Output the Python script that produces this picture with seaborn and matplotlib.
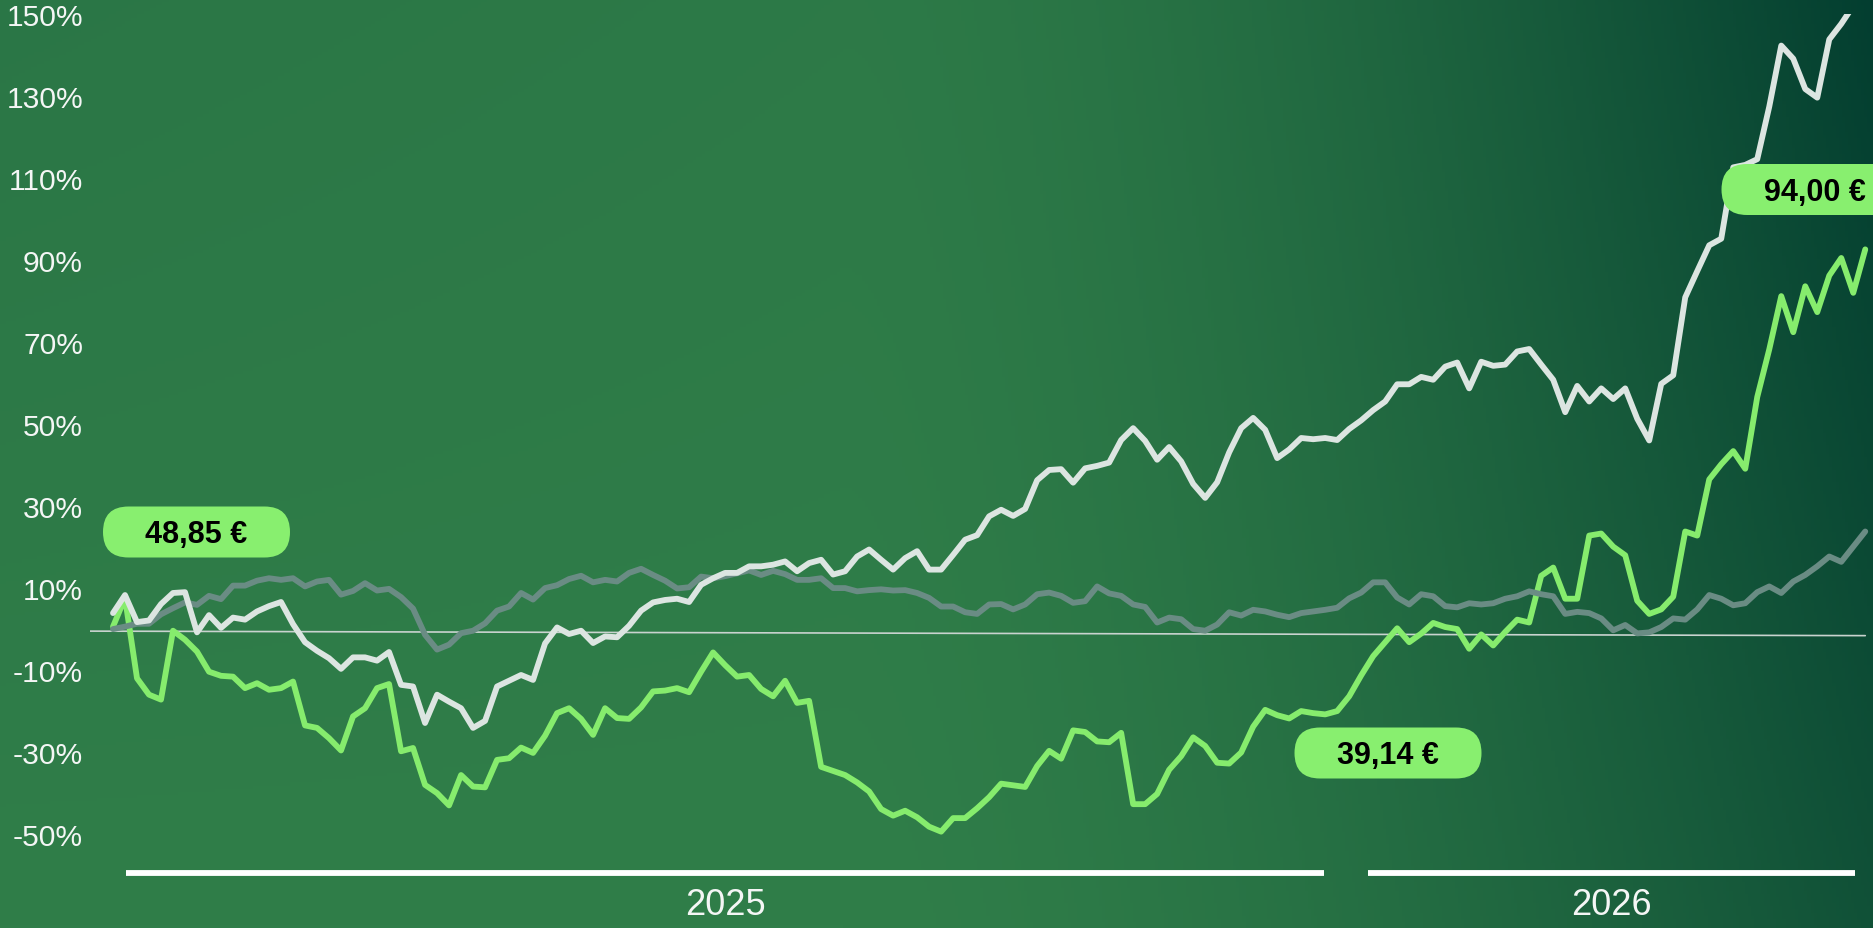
import numpy as np
import pandas as pd
import matplotlib
matplotlib.use("Agg")
import matplotlib.pyplot as plt
from matplotlib.patches import FancyBboxPatch
import seaborn as sns

# Performance relative to the start (%), one value every ~3.5 days
white_vals = [
    3.9, 8.3, 1.7, 2.1, 6.1, 8.8, 9.0, -0.8, 3.4, 0.3,
    2.8, 2.3, 4.3, 5.6, 6.6, 1.2, -3.2, -5.3, -7.1, -9.7,
    -6.9, -6.9, -7.7, -5.6, -13.6, -14.0, -22.9, -16.0, -17.7, -19.3,
    -24.1, -22.4, -14.0, -12.6, -11.2, -12.4, -3.5, 0.4, -1.2, -0.4,
    -3.4, -1.8, -2.0, 0.8, 4.5, 6.5, 7.1, 7.4, 6.6, 10.8,
    12.4, 13.7, 13.7, 15.3, 15.3, 15.7, 16.5, 14.1, 16.1, 16.9,
    13.3, 14.1, 17.7, 19.4, 16.9, 14.5, 17.3, 19.0, 14.5, 14.5,
    18.1, 21.8, 22.9, 27.5, 29.1, 27.6, 29.3, 36.3, 38.8, 39.0,
    35.7, 39.2, 39.8, 40.6, 46.1, 49.0, 45.9, 41.3, 44.4, 40.9,
    35.4, 32.0, 35.8, 43.1, 49.0, 51.5, 48.6, 41.7, 43.8, 46.6,
    46.3, 46.6, 46.1, 48.8, 50.9, 53.4, 55.5, 59.7, 59.7, 61.5,
    60.8, 64.0, 65.0, 58.7, 65.2, 64.2, 64.5, 67.7, 68.3, 64.5,
    60.8, 52.9, 59.3, 55.5, 58.7, 56.1, 58.7, 51.3, 46.0, 59.8,
    61.9, 80.9, 87.3, 93.6, 95.2, 112.6, 113.2, 114.6, 127.4, 142.3,
    139.1, 131.7, 129.6, 143.8, 147.6, 152.0, 156.0,
]
green_vals = [
    0.6, 7.6, -12.0, -16.0, -17.2, -0.4, -2.6, -5.5, -10.4, -11.4,
    -11.6, -14.4, -13.2, -14.8, -14.4, -12.8, -23.5, -24.1, -26.6, -29.6,
    -21.3, -19.3, -14.4, -13.4, -29.8, -29.0, -38.0, -40.0, -43.0, -35.6,
    -38.4, -38.6, -31.9, -31.5, -28.9, -30.2, -26.0, -20.5, -19.3, -21.9,
    -25.8, -19.3, -21.7, -21.9, -19.1, -15.2, -15.0, -14.4, -15.4, -10.4,
    -5.7, -8.8, -11.6, -11.2, -14.6, -16.4, -12.6, -18.0, -17.5, -33.6,
    -34.6, -35.6, -37.4, -39.6, -43.9, -45.5, -44.3, -45.9, -48.2, -49.4,
    -46.1, -46.1, -43.7, -41.0, -37.7, -38.1, -38.5, -33.4, -29.7, -31.6,
    -24.7, -25.1, -27.4, -27.6, -25.3, -42.7, -42.7, -40.2, -34.3, -31.0,
    -26.4, -28.5, -32.6, -32.8, -30.1, -23.8, -19.7, -21.0, -21.8, -20.0,
    -20.5, -20.8, -20.0, -16.4, -11.3, -6.6, -3.2, 0.2, -3.2, -1.1,
    1.5, 0.5, 0.0, -4.8, -1.3, -4.0, -0.7, 2.3, 1.6, 13.0,
    15.0, 7.4, 7.4, 22.8, 23.3, 20.1, 18.0, 6.9, 3.7, 4.8,
    7.9, 23.8, 22.8, 36.5, 40.2, 43.4, 39.1, 56.6, 68.2, 81.2,
    72.4, 83.6, 77.3, 86.2, 90.5, 82.0, 92.6,
]
gray_vals = [
    0.0, 0.6, 1.3, 1.3, 3.6, 5.1, 6.5, 5.9, 8.1, 7.3,
    10.6, 10.6, 11.8, 12.4, 12.0, 12.4, 10.4, 11.6, 12.0, 8.4,
    9.3, 11.2, 9.4, 9.8, 7.8, 5.0, -1.4, -5.0, -3.8, -1.0,
    -0.4, 1.4, 4.5, 5.5, 8.8, 7.2, 10.0, 10.7, 12.2, 13.0,
    11.4, 12.0, 11.6, 13.7, 14.7, 13.2, 11.8, 9.9, 10.2, 12.8,
    12.4, 12.9, 13.6, 14.3, 13.2, 14.2, 13.4, 12.0, 12.0, 12.4,
    10.0, 10.0, 9.2, 9.5, 9.7, 9.4, 9.5, 8.8, 7.6, 5.5,
    5.5, 4.1, 3.7, 6.0, 6.1, 4.8, 6.0, 8.5, 8.9, 8.1,
    6.4, 6.8, 10.4, 8.7, 8.1, 6.0, 5.4, 1.6, 2.8, 2.4,
    0.0, -0.4, 1.1, 4.1, 3.3, 4.7, 4.3, 3.5, 2.9, 3.9,
    4.3, 4.7, 5.2, 7.5, 8.9, 11.4, 11.4, 7.7, 6.0, 8.5,
    8.0, 5.6, 5.3, 6.3, 6.0, 6.3, 7.4, 8.0, 9.2, 8.5,
    8.0, 3.7, 4.2, 3.9, 2.6, -0.3, 1.0, -1.05, -0.8, 0.5,
    2.6, 2.3, 4.8, 8.3, 7.4, 5.8, 6.3, 9.0, 10.4, 8.8,
    11.6, 13.2, 15.3, 17.7, 16.4, 20.1, 23.8,
]
start_date, end_date = "2024-12-30", "2026-06-04"
baseline = [-0.5, -1.6]
y_ticks = [-50, -30, -10, 10, 30, 50, 70, 90, 110, 130, 150]
years = ["2025", "2026"]
year_spans = [("2025-01-03", "2025-12-25"), ("2026-01-07", "2026-06-01")]
price_labels = ["48,85 €", "39,14 €", "94,00 €"]

dates = pd.date_range(start_date, end_date, periods=len(white_vals))
df = pd.concat([
    pd.DataFrame({"date": dates, "perf": green_vals, "serie": "green"}),
    pd.DataFrame({"date": dates, "perf": gray_vals, "serie": "gray"}),
    pd.DataFrame({"date": dates, "perf": white_vals, "serie": "white"}),
])

sns.set_style("white")
plt.rcParams["font.family"] = ["Liberation Sans", "DejaVu Sans"]

W, H = 1873, 929
fig = plt.figure(figsize=(W / 100, H / 100), dpi=100)

# background gradient: bright green bottom-left -> dark teal top-right
yy, xx = np.mgrid[0:1:300j, 0:1:600j]
t = np.clip((xx - 0.45) / 0.55, 0, 1) ** 1.6 * (0.7 + 0.3 * (1 - yy)) + 0.12 * (1 - yy) * (1 - xx)
t = np.clip(t, 0, 1)[..., None]
light = np.array([48, 126, 73]) / 255
dark = np.array([3, 62, 48]) / 255
bg = fig.add_axes([0, 0, 1, 1])
bg.imshow(light * (1 - t) + dark * t, aspect="auto", extent=(0, 1, 0, 1), origin="upper")
bg.axis("off")

ax = fig.add_axes([90 / W, 0, 1 - 90 / W, 914 / H])
ax.patch.set_alpha(0)

x0 = dates[0] - pd.Timedelta(days=6.84)
ax.plot([x0, dates[-1]], baseline, color="#C9D3CF", lw=1.2, zorder=1)

sns.lineplot(data=df, x="date", y="perf", hue="serie",
             hue_order=["green", "gray", "white"],
             palette={"green": "#86EC6D", "gray": "#6A8C84", "white": "#DCE5E1"},
             linewidth=4.2, legend=False, estimator=None, sort=False, ax=ax)
for ln in ax.lines[1:]:
    ln.set_solid_capstyle("round")
    ln.set_solid_joinstyle("round")

ax.set_xlim(x0, dates[0] + pd.Timedelta(days=523.3))
ax.set_ylim(-72.9, 150)
ax.set_yticks(y_ticks)
ax.set_yticklabels([f"{v}%" for v in y_ticks])
ax.tick_params(axis="y", length=0, pad=5, labelsize=21.6, labelcolor="#F4F6F5")
ax.set_xticks([])
ax.set_xlabel("")
ax.set_ylabel("")
for s in ax.spines.values():
    s.set_visible(False)

# year bars under the chart
for (a, b), label in zip(year_spans, years):
    a, b = pd.Timestamp(a), pd.Timestamp(b)
    ax.plot([a, b], [-59.5, -59.5], color="white", lw=4.2, solid_capstyle="butt")
    ax.text(a + (b - a) / 2, -67.1, label, ha="center", va="center",
            fontsize=26, color="#F4F6F5")

# price pills
pill_centers = [(196.5, 533), (1388, 754), (1815, 190.5)]
for (cx, cy), txt in zip(pill_centers, price_labels):
    px, py = cx / 100, (H - cy) / 100
    pill = FancyBboxPatch((px - 0.935, py - 0.255), 1.87, 0.51,
                          boxstyle="round,pad=0,rounding_size=0.255",
                          transform=fig.dpi_scale_trans,
                          fc="#88EF6F", ec="none", zorder=5)
    fig.add_artist(pill)
    fig.text(cx / W, 1 - (cy + 10.5) / H, txt, ha="center", va="baseline",
             fontsize=22, fontweight="bold", color="black", zorder=6)

fig.savefig("out.png", dpi=100)
